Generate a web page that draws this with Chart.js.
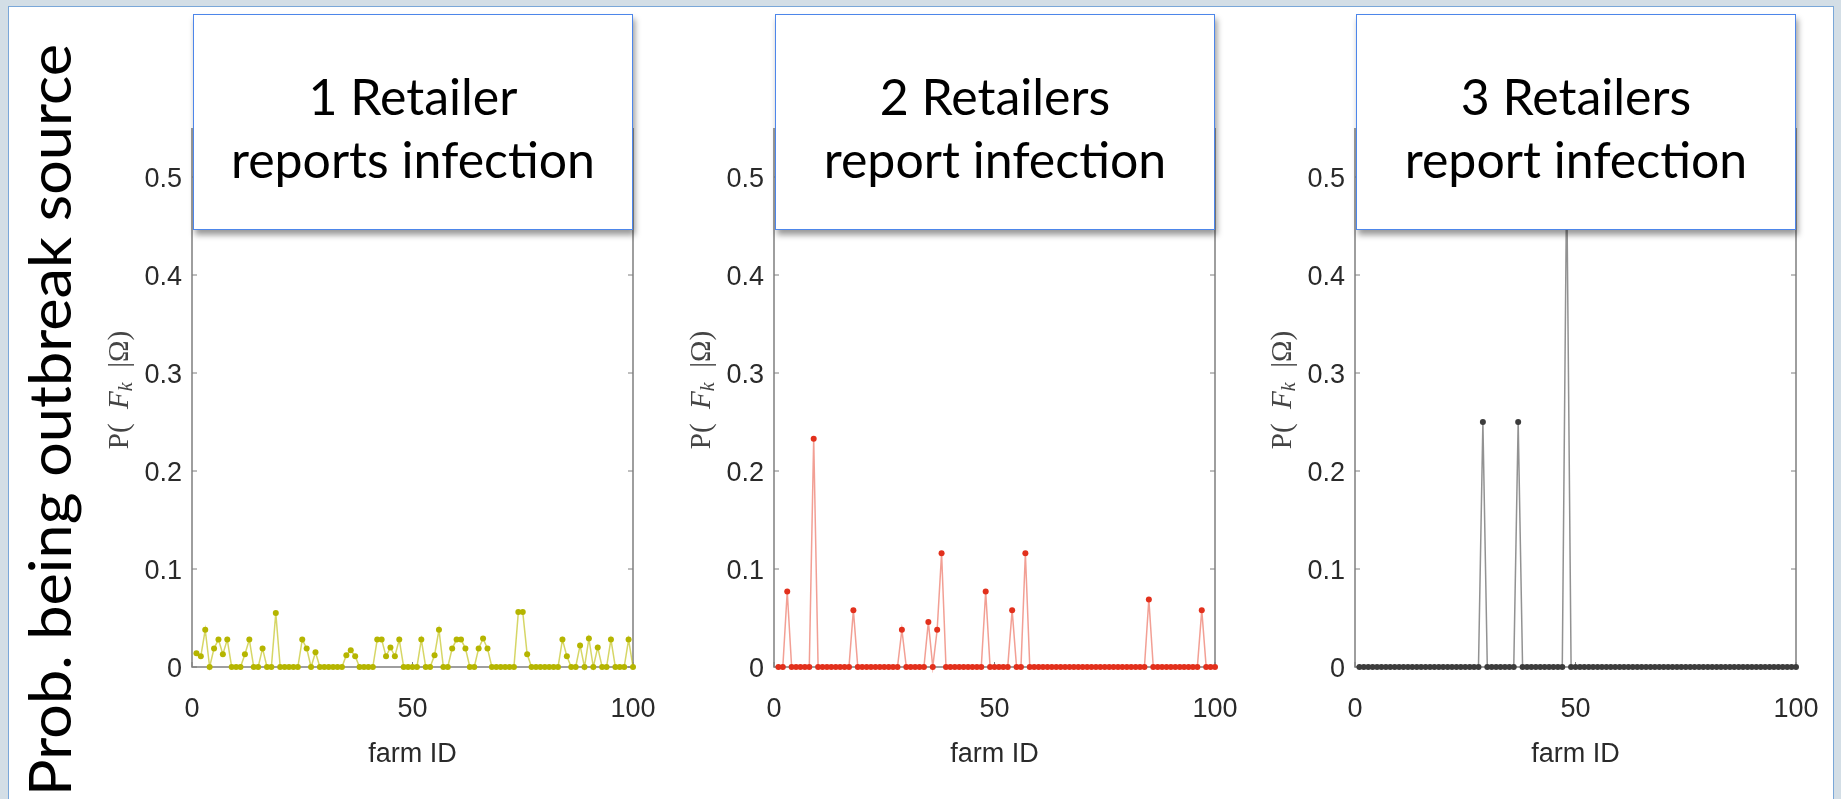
<!DOCTYPE html>
<html>
<head>
<meta charset="utf-8">
<script src="https://cdn.jsdelivr.net/npm/chart.js@4.4.1/dist/chart.umd.min.js"></script>
<style>
  html, body { margin: 0; padding: 0; }
  body { width: 1841px; height: 799px; background: #d3dee6; position: relative; overflow: hidden; }
  #sheet { position: absolute; left: 8px; top: 6px; width: 1824px; height: 800px; background: #fff;
           border-left: 1px solid #7aa7d8; border-top: 1px solid #7aa7d8; border-right: 1px solid #7aa7d8; }
  canvas { position: absolute; top: 0; }
  .box { position: absolute; top: 14px; height: 214px; width: 438px; background: #fff;
         border: 1.5px solid #4d86ea; box-shadow: 2px 5px 6px rgba(0,0,0,0.4);
         font-family: Lato, Carlito, Calibri, sans-serif; font-size: 50px; color: #000; text-align: center; z-index: 5; }
  .box div { position: absolute; left: 0; right: 0; top: 50px; line-height: 63px; }
  #ylab { position: absolute; left: 49px; top: 420px; white-space: nowrap;
          font-family: Lato, Carlito, Calibri, sans-serif; font-size: 58px; color: #000; line-height: 1;
          transform: translate(-50%, -50%) rotate(-90deg) scaleX(1.055); }
</style>
</head>
<body>
<div id="sheet"></div>
<div id="ylab">Prob. being outbreak source</div>

<script>
// farm IDs on the x axis
const farmIds = [
  1, 2, 3, 4, 5, 6, 7, 8, 9, 10, 11, 12, 13, 14, 15, 16, 17, 18, 19, 20,
  21, 22, 23, 24, 25, 26, 27, 28, 29, 30, 31, 32, 33, 34, 35, 36, 37, 38, 39, 40,
  41, 42, 43, 44, 45, 46, 47, 48, 49, 50, 51, 52, 53, 54, 55, 56, 57, 58, 59, 60,
  61, 62, 63, 64, 65, 66, 67, 68, 69, 70, 71, 72, 73, 74, 75, 76, 77, 78, 79, 80,
  81, 82, 83, 84, 85, 86, 87, 88, 89, 90, 91, 92, 93, 94, 95, 96, 97, 98, 99, 100
];

// P(F_k | Omega), one retailer reporting
const oneRetailer = [
  0.014, 0.011, 0.038, 0, 0.019, 0.028, 0.013, 0.028, 0, 0,
  0, 0.013, 0.028, 0, 0, 0.019, 0, 0, 0.055, 0,
  0, 0, 0, 0, 0.028, 0.019, 0, 0.015, 0, 0,
  0, 0, 0, 0, 0.012, 0.017, 0.011, 0, 0, 0,
  0, 0.028, 0.028, 0.011, 0.020, 0.011, 0.028, 0, 0, 0,
  0, 0.028, 0, 0, 0.012, 0.038, 0, 0, 0.019, 0.028,
  0.028, 0.019, 0, 0, 0.019, 0.029, 0.019, 0, 0, 0,
  0, 0, 0, 0.056, 0.056, 0.013, 0, 0, 0, 0,
  0, 0, 0, 0.028, 0.011, 0, 0, 0.022, 0, 0.029,
  0, 0.020, 0, 0, 0.028, 0, 0, 0, 0.028, 0
];

// two retailers reporting
const twoRetailers = [
  0, 0, 0.077, 0, 0, 0, 0, 0, 0.233, 0,
  0, 0, 0, 0, 0, 0, 0, 0.058, 0, 0,
  0, 0, 0, 0, 0, 0, 0, 0, 0.038, 0,
  0, 0, 0, 0, 0.046, 0, 0.038, 0.116, 0, 0,
  0, 0, 0, 0, 0, 0, 0, 0.077, 0, 0,
  0, 0, 0, 0.058, 0, 0, 0.116, 0, 0, 0,
  0, 0, 0, 0, 0, 0, 0, 0, 0, 0,
  0, 0, 0, 0, 0, 0, 0, 0, 0, 0,
  0, 0, 0, 0, 0.069, 0, 0, 0, 0, 0,
  0, 0, 0, 0, 0, 0, 0.058, 0, 0, 0
];

// three retailers reporting
const threeRetailers = [
  0, 0, 0, 0, 0, 0, 0, 0, 0, 0,
  0, 0, 0, 0, 0, 0, 0, 0, 0, 0,
  0, 0, 0, 0, 0, 0, 0, 0, 0.25, 0,
  0, 0, 0, 0, 0, 0, 0.25, 0, 0, 0,
  0, 0, 0, 0, 0, 0, 0, 0.5, 0, 0,
  0, 0, 0, 0, 0, 0, 0, 0, 0, 0,
  0, 0, 0, 0, 0, 0, 0, 0, 0, 0,
  0, 0, 0, 0, 0, 0, 0, 0, 0, 0,
  0, 0, 0, 0, 0, 0, 0, 0, 0, 0,
  0, 0, 0, 0, 0, 0, 0, 0, 0, 0
];

const xTicks = [0, 50, 100];
const yTicks = [0, 0.1, 0.2, 0.3, 0.4, 0.5];
const panelTitles = [
  ['1 Retailer', 'reports infection'],
  ['2 Retailers', 'report infection'],
  ['3 Retailers', 'report infection']
];
const xTitle = 'farm ID';

const panels = [
  { data: oneRetailer, left: 192, point: '#b5b500', line: 'rgba(192,192,20,0.65)' },
  { data: twoRetailers, left: 774, point: '#e2301c', line: 'rgba(232,80,60,0.55)' },
  { data: threeRetailers, left: 1355, point: '#3c3c3c', line: 'rgba(100,100,100,0.7)' }
];

const AXIS_W = 140;   // room left of the plot for tick labels + y title
const PLOT_W = 441;
const RIGHT_PAD = 40;

// frame, inward ticks and axis titles (MATLAB look)
const frame = {
  id: 'frame',
  beforeDatasetsDraw(chart) {
    const { ctx, chartArea: a, scales: { x, y } } = chart;
    ctx.save();
    ctx.strokeStyle = '#7f7f7f';
    ctx.lineWidth = 1.5;
    ctx.beginPath();
    ctx.moveTo(a.left, a.top);
    ctx.lineTo(a.left, a.bottom);
    ctx.lineTo(a.right, a.bottom);
    ctx.lineTo(a.right, a.top);
    ctx.stroke();
    ctx.lineWidth = 1;
    ctx.beginPath();
    y.ticks.forEach(t => {
      const py = y.getPixelForValue(t.value);
      ctx.moveTo(a.left, py); ctx.lineTo(a.left + 5, py);
      ctx.moveTo(a.right, py); ctx.lineTo(a.right - 5, py);
    });
    x.ticks.forEach(t => {
      const px = x.getPixelForValue(t.value);
      ctx.moveTo(px, a.bottom); ctx.lineTo(px, a.bottom - 5);
    });
    ctx.stroke();

    // x title
    ctx.fillStyle = '#2a2a2a';
    ctx.font = '27px "Liberation Sans", Arial, sans-serif';
    ctx.textAlign = 'center';
    ctx.textBaseline = 'middle';
    ctx.fillText(xTitle, (a.left + a.right) / 2, a.bottom + 88);

    // y title: P( F_k |Ω)
    const parts = [
      { t: 'P(  ', f: '29px "Liberation Serif", serif', dy: 0 },
      { t: 'F', f: 'italic 29px "Liberation Serif", serif', dy: 0 },
      { t: 'k', f: 'italic 20px "Liberation Serif", serif', dy: 7 },
      { t: '  |\u03A9)', f: '29px "Liberation Serif", serif', dy: 0 }
    ];
    let total = 0;
    parts.forEach(p => { ctx.font = p.f; p.w = ctx.measureText(p.t).width; total += p.w; });
    ctx.translate(a.left - 72, 390);
    ctx.rotate(-Math.PI / 2);
    ctx.fillStyle = '#444';
    ctx.textAlign = 'left';
    let cx = -total / 2;
    parts.forEach(p => {
      ctx.font = p.f;
      ctx.fillText(p.t, cx, p.dy);
      cx += p.w;
    });
    ctx.restore();
  }
};

panels.forEach((p, i) => {
  const canvas = document.createElement('canvas');
  const w = AXIS_W + PLOT_W + RIGHT_PAD;
  canvas.style.left = (p.left - AXIS_W) + 'px';
  canvas.style.width = w + 'px';
  canvas.style.height = '799px';
  canvas.width = w;
  canvas.height = 799;
  document.body.appendChild(canvas);

  const box = document.createElement('div');
  box.className = 'box';
  box.style.left = (p.left + 1) + 'px';
  box.innerHTML = '<div>' + panelTitles[i][0] + '<br>' + panelTitles[i][1] + '</div>';
  document.body.appendChild(box);

  new Chart(canvas.getContext('2d'), {
    type: 'line',
    data: {
      datasets: [{
        data: farmIds.map((id, k) => ({ x: id, y: p.data[k] })),
        borderColor: p.line,
        borderWidth: 1.5,
        pointRadius: 3,
        pointBackgroundColor: p.point,
        pointBorderColor: p.point,
        pointBorderWidth: 0,
        tension: 0,
        clip: 6
      }]
    },
    options: {
      responsive: false,
      animation: false,
      events: [],
      layout: { padding: { top: 128, right: RIGHT_PAD, left: 0, bottom: 0 } },
      plugins: { legend: { display: false }, tooltip: { enabled: false } },
      scales: {
        x: {
          type: 'linear', min: 0, max: 100,
          afterBuildTicks: s => { s.ticks = xTicks.map(v => ({ value: v })); },
          afterFit: s => { s.height = 132; s.paddingLeft = 0; s.paddingRight = 0; },
          grid: { display: false, drawTicks: false },
          border: { display: false },
          ticks: { color: '#2a2a2a', padding: 26, maxRotation: 0,
                   font: { family: '"Liberation Sans", Arial, sans-serif', size: 27 } }
        },
        y: {
          type: 'linear', min: 0, max: 0.55,
          afterBuildTicks: s => { s.ticks = yTicks.map(v => ({ value: v })); },
          afterFit: s => { s.width = AXIS_W; s.paddingTop = 0; s.paddingBottom = 0; },
          grid: { display: false, drawTicks: false },
          border: { display: false },
          ticks: { color: '#2a2a2a', padding: 10, labelOffset: 3,
                   callback: v => v === 0 ? '0' : v.toFixed(1),
                   font: { family: '"Liberation Sans", Arial, sans-serif', size: 27 } }
        }
      }
    },
    plugins: [frame]
  });
});
</script>
</body>
</html>
